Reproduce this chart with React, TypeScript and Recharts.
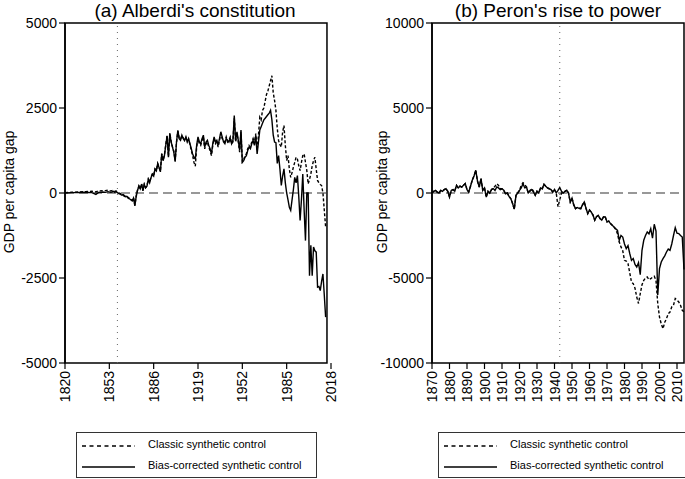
import { LineChart, Line, XAxis, YAxis, ReferenceLine, ReferenceArea } from "recharts";

const FONT = '"Liberation Sans", Arial, sans-serif';

// (a) Alberdi's constitution
const earlyYearsA = [1820, 1825, 1830, 1835, 1840, 1843, 1845, 1848, 1850, 1852, 1854];
const yearsA = [...earlyYearsA, ...Array.from({ length: 160 }, (_, i) => 1855 + i)];
const biasA = [
    0, 10, 15, 20, 10, -40, 20, 30, 20, 40, 20,
    30, 50, 20, 40, 10,
    -20, -30, -60, -50, -90, -110, -100, -150, -170, -200,
    -230, -150, -380, -100, 80, 200, 120, 260, 60, 250,
    150, 200, 400, 300, 450, 550, 500, 700, 650, 860,
    750, 620, 1150, 950, 1100, 1400, 1680, 1050, 1750, 1500,
    1350, 1200, 920, 1500, 1840, 1600, 1550, 1700, 1600, 1540,
    1650, 1500, 1600, 1450, 1300, 1150, 1050, 1000, 1400, 1650,
    1500, 1450, 1600, 1700, 1350, 1500, 1550, 1400, 1300, 1150,
    1450, 1650, 1500, 1550, 1400, 1600, 1800, 1650, 1500, 1450,
    1600, 1550, 1500, 1600, 1450, 1550, 2280, 1550, 1800, 1550,
    1250, 1850, 900, 950, 1050, 1100, 1250, 1350, 1300, 1450,
    1550, 1400, 1700, 1150, 1500, 1850, 1950, 2050, 2150, 2200,
    2250, 2300, 2350, 2430, 2150, 1700, 1500, 1480, 870, 1100,
    700, 220, 500, 710, 300, 0, -200, -420, -510, -200,
    100, 460, 300, 510, -100, -810, -200, 560, -500, -1400,
    0, 0, -2430, -1540, -2430, -1590, -1700, -1740, -2770, -2750,
    -2870, -2600, -2380, -3000, -3650,
];
const classicA = [
    10, 20, 30, 40, 50, 30, 60, 70, 70, 80, 60,
    70, 80, 50, 60, 30,
    0, -10, -40, -30, -70, -90, -90, -130, -160, -190,
    -220, -140, -360, -90, 90, 210, 130, 270, 80, 260,
    160, 210, 410, 320, 460, 560, 520, 710, 660, 870,
    760, 640, 1160, 960, 1120, 1420, 1690, 1070, 1760, 1520,
    1360, 1230, 950, 1480, 1820, 1620, 1580, 1680, 1620, 1560,
    1630, 1520, 1580, 1430, 1250, 1100, 900, 790, 1350, 1600,
    1450, 1400, 1550, 1650, 1300, 1450, 1500, 1350, 1250, 1100,
    1400, 1600, 1450, 1500, 1350, 1550, 1750, 1600, 1550, 1500,
    1650, 1500, 1550, 1650, 1450, 1500, 2200, 1500, 1750, 1500,
    1200, 1800, 920, 980, 1100, 1150, 1300, 1400, 1350, 1500,
    1600, 1450, 1750, 1250, 1700, 2230, 2150, 2430, 2500, 2700,
    2900, 3000, 3150, 3300, 3450, 2950, 2720, 2430, 1900, 1540,
    1420, 1350, 1800, 1985, 1400, 955, 1100, 700, 460, 600,
    760, 900, 1050, 1000, 800, 660, 900, 1100, 1150, 900,
    660, 270, 400, 560, 800, 950, 1050, 700, 370, 300,
    250, 220, 0, -500, -1000,
];
const xTicksA = [1820, 1853, 1886, 1919, 1952, 1985, 2018];
const yTicksA = [-5000, -2500, 0, 2500, 5000];

// (b) Peron's rise to power
const yearsB = Array.from({ length: 145 }, (_, i) => 1870 + i);
const biasB = [
    0, 100, 160, 50, 0, 150, 100, 200, 260, 100,
    -235, 150, 200, 100, 450, 300, 400, 350, 450, 550,
    200, 60, 400, 750, 1000, 1335, 700, 350, 850, 160,
    300, -235, 100, 0, 200, 260, 150, 350, 300, 200,
    250, 160, -50, 0, -200, -330, -600, -950, -135, 0,
    160, 300, 550, 300, 350, 0, 100, 200, 50, -135,
    100, 0, 300, 250, 510, 400, 300, 250, 200, 60,
    200, 0, 150, 320, 100, 0, 100, 160, 0, -530,
    -300, -700, -920, -850, -900, -920, -700, -530, -900, -1215,
    -1000, -1120, -1300, -1600, -1400, -1310, -1500, -1600, -1400, -1410,
    -1700, -1650, -1800, -1900, -2000, -2100, -2200, -2780, -2500, -2590,
    -3000, -3270, -3100, -3560, -3960, -3860, -4200, -4350, -4100, -4800,
    -3370, -2780, -2500, -2290, -2400, -2100, -2650, -1840, -2240, -6000,
    -4450, -4060, -3860, -3700, -3470, -3300, -3370, -3000, -2500, -2040,
    -2360, -2390, -2500, -2590, -4500,
];
const classicB = [
    0, 100, 160, 50, 0, 150, 100, 200, 260, 100,
    -235, 150, 200, 100, 450, 300, 400, 350, 450, 550,
    200, 60, 400, 750, 1000, 1335, 700, 350, 850, 160,
    300, -235, 100, 0, 200, 300, 400, 550, 450, 250,
    250, 160, -50, 0, -200, -330, -600, -950, -135, 0,
    160, 450, 600, 500, 350, 0, 150, 250, 100, -135,
    100, 0, 300, 250, 510, 400, 300, 250, 200, 60,
    200, 0, -800, -400, 0, 0, 100, 160, 0, -530,
    -300, -700, -920, -850, -900, -920, -700, -530, -900, -1215,
    -1000, -1120, -1300, -1600, -1400, -1310, -1500, -1600, -1400, -1410,
    -1700, -1650, -1800, -1900, -2000, -2150, -2400, -2880, -3170, -3400,
    -3960, -4000, -4150, -4700, -5240, -5330, -5600, -6120, -6500, -5920,
    -5400, -5140, -5000, -4940, -5100, -5040, -4950, -4900, -5140, -6500,
    -7300, -7700, -7980, -7600, -7390, -7100, -7000, -6700, -6600, -6210,
    -6300, -6410, -6600, -6900, -7000,
];
const xTicksB = [1870, 1880, 1890, 1900, 1910, 1920, 1930, 1940, 1950, 1960, 1970, 1980, 1990, 2000, 2010];
const yTicksB = [-10000, -5000, 0, 5000, 10000];

const rowsA = yearsA.map((year, i) => ({ year, classic: classicA[i], bias: biasA[i] }));
const rowsB = yearsB.map((year, i) => ({ year, classic: classicB[i], bias: biasB[i] }));

const RotatedTick = (props: any) => {
    const { x, y, payload } = props;
    return (
        <g transform={`translate(${x},${y})`}>
            <text transform="rotate(-90)" textAnchor="end" dy="0.36em" fontSize={14} fill="#000" fontFamily={FONT}>
                {payload.value}
            </text>
        </g>
    );
};

const Panel = (props: any) => {
    const { rows, left, width, yWidth, xDomain, xTicks, yTicks, frameEnd, event } = props;
    const yMax = yTicks[yTicks.length - 1];
    const yMin = yTicks[0];
    return (
        <div style={{ position: "absolute", left, top: 0 }}>
            <LineChart
                width={width}
                height={420}
                data={rows}
                margin={{ top: 23, right: props.right, left: 0, bottom: 17 }}
            >
                <XAxis
                    dataKey="year"
                    type="number"
                    domain={xDomain}
                    ticks={xTicks}
                    interval={0}
                    axisLine={false}
                    tickLine={{ stroke: "#000", strokeWidth: 1.2 }}
                    tickSize={6}
                    height={40}
                    tick={<RotatedTick />}
                />
                <YAxis
                    type="number"
                    domain={[yMin, yMax]}
                    ticks={yTicks}
                    interval={0}
                    width={yWidth}
                    axisLine={{ stroke: "#000", strokeWidth: 1.5 }}
                    tickLine={{ stroke: "#000", strokeWidth: 1.2 }}
                    tickSize={6}
                    tick={{ fill: "#000", fontSize: 14, fontFamily: FONT }}
                />
                <ReferenceLine
                    segment={[{ x: xDomain[0], y: 0 }, { x: frameEnd, y: 0 }]}
                    stroke="#777"
                    strokeWidth={1.5}
                    strokeDasharray="9 5"
                />
                <ReferenceLine x={event} stroke="#666" strokeWidth={1} strokeDasharray="1 5" />
                <Line
                    dataKey="classic"
                    stroke="#000"
                    strokeWidth={1.4}
                    strokeDasharray="3 2"
                    dot={false}
                    isAnimationActive={false}
                />
                <Line
                    dataKey="bias"
                    stroke="#000"
                    strokeWidth={1.4}
                    dot={false}
                    isAnimationActive={false}
                />
                <ReferenceArea
                    x1={xDomain[0]}
                    x2={frameEnd}
                    y1={yMin}
                    y2={yMax}
                    fill="none"
                    fillOpacity={0}
                    stroke="#000"
                    strokeWidth={1.5}
                />
            </LineChart>
        </div>
    );
};

const LegendBox = ({ left, width }: { left: number; width: number }) => (
    <div
        style={{
            position: "absolute",
            left,
            top: 432,
            width,
            height: 46,
            border: "1px solid #333",
            boxSizing: "border-box",
            fontFamily: FONT,
            fontSize: 11,
            color: "#000",
        }}
    >
        <svg width={60} height={44} style={{ position: "absolute", left: 4, top: 0 }}>
            <line x1={1} x2={54} y1={13} y2={13} stroke="#000" strokeWidth={1.3} strokeDasharray="4 3.5" />
            <line x1={1} x2={54} y1={34} y2={34} stroke="#000" strokeWidth={1.5} />
        </svg>
        <div style={{ position: "absolute", left: 71, top: 5, whiteSpace: "nowrap" }}>Classic synthetic control</div>
        <div style={{ position: "absolute", left: 71, top: 26, whiteSpace: "nowrap" }}>Bias-corrected synthetic control</div>
    </div>
);

const Title = ({ text, center }: { text: string; center: number }) => (
    <div
        style={{
            position: "absolute",
            left: center - 150,
            width: 300,
            top: 1,
            height: 20,
            lineHeight: "20px",
            textAlign: "center",
            fontFamily: FONT,
            fontSize: 19,
            color: "#000",
            whiteSpace: "nowrap",
        }}
    >
        {text}
    </div>
);

const YLabel = ({ center }: { center: number }) => (
    <div
        style={{
            position: "absolute",
            left: center - 80,
            top: 192 - 9,
            width: 160,
            height: 18,
            lineHeight: "18px",
            textAlign: "center",
            transform: "rotate(-90deg)",
            fontFamily: FONT,
            fontSize: 14,
            color: "#000",
        }}
    >
        GDP per capita gap
    </div>
);

const App = () => (
    <div
        style={{
            position: "absolute",
            left: 0,
            top: 0,
            width: 685,
            height: 479,
            overflow: "hidden",
            background: "#fff",
        }}
    >
        <Title text="(a) Alberdi's constitution" center={195} />
        <Title text="(b) Peron's rise to power" center={558} />
        <YLabel center={9} />
        <YLabel center={382} />
        <Panel
            rows={rowsA}
            left={0}
            width={340}
            right={9}
            yWidth={65}
            xDomain={[1820, 2018]}
            xTicks={xTicksA}
            yTicks={yTicksA}
            frameEnd={2015}
            event={1859}
        />
        <Panel
            rows={rowsB}
            left={366}
            width={320}
            right={2}
            yWidth={66}
            xDomain={[1870, 2014]}
            xTicks={xTicksB}
            yTicks={yTicksB}
            frameEnd={2014}
            event={1943}
        />
        <LegendBox left={76} width={241} />
        <LegendBox left={438} width={260} />
    </div>
);

export default App;
